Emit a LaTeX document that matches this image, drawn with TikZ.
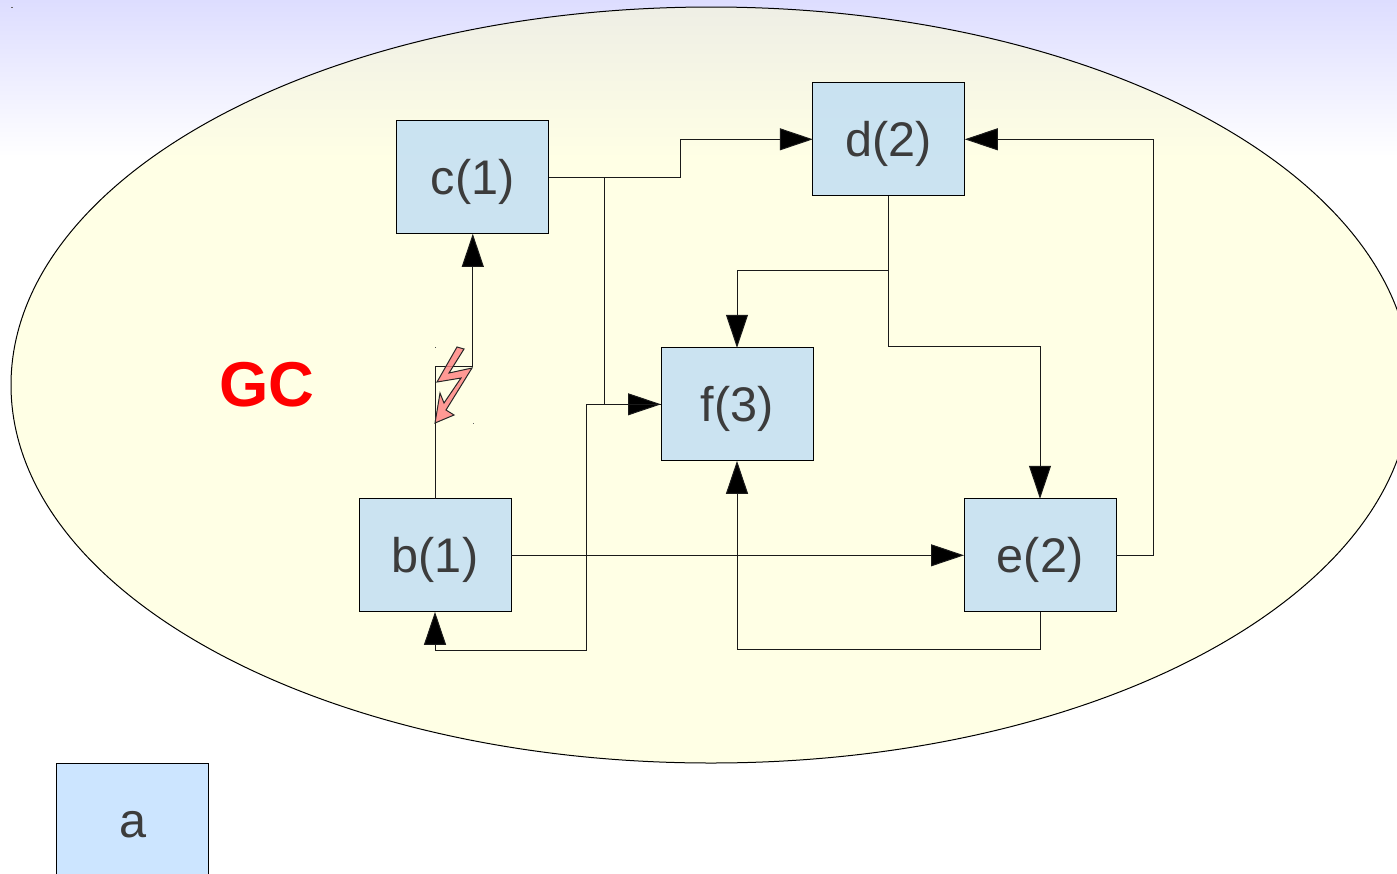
\documentclass[tikz,border=0pt]{standalone}
\usepackage{fontspec}
\setmainfont{Liberation Sans}
\usetikzlibrary{arrows.meta,shapes.geometric}
\definecolor{txt}{HTML}{3C3C3C}
\definecolor{lnk}{HTML}{1A1A1A}
\definecolor{boxfill}{HTML}{BEDDF4}
\definecolor{legendfill}{HTML}{CCE5FF}
\definecolor{gcfill}{HTML}{FFFFCC}
\definecolor{skytop}{HTML}{DDDDFF}
\definecolor{boltfill}{HTML}{FF8080}
\tikzset{
  boxnode/.style={draw=black,line width=0.5pt,fill=boxfill,fill opacity=0.8,text opacity=1,text=txt,minimum width=76pt,minimum height=56.5pt,inner sep=0pt,outer sep=0pt,text height=20pt,text depth=2.6pt,font=\fontsize{24.3}{26}\selectfont},
  link/.style={draw=lnk,line width=0.5pt,-{Triangle[length=16.5pt,width=11pt,fill=black]}},
}
\begin{document}
\begin{tikzpicture}[x=0.5pt,y=-0.5pt]
\clip (0,0) rectangle (1397,873);
\fill[white] (0,0) rectangle (1397,873);
\shade[top color=skytop,bottom color=white] (0,0) rectangle (1397,157);
\node[ellipse,draw=black,line width=0.5pt,fill=gcfill,fill opacity=0.5,minimum width=700pt,minimum height=378pt,inner sep=0pt,outer sep=0pt] (gc) at (711,385) {};
\node[text=red,font=\fontsize{31.7}{34}\selectfont\bfseries] (gclabel) at (267,385) {GC};
\node[boxnode] (c) at (472.8,177.3) {c(1)};
\node[boxnode] (d) at (888.8,139.3) {d(2)};
\node[boxnode] (f) at (737,404.3) {f(3)};
\node[boxnode] (b) at (435,555.3) {b(1)};
\node[boxnode] (e) at (1040,555.3) {e(2)};
\node[boxnode,fill=legendfill,fill opacity=1] (a) at (132.8,820.3) {a};
\draw[link] (b.north) -- ++(0,-132) -| (c.south);
\draw[link] (c.east) -- ++(132,0) |- (d.west);
\draw[link] (c.east) -- ++(56,0) |- (f.west);
\draw[link] (f.west) -- ++(-75,0) -- ++(0,246) -| (b.south);
\draw[link] (d.south) -- ++(0,75) -| (f.north);
\draw[link] (d.south) -- ++(0,151) -| (e.north);
\draw[link] (b.east) -- (e.west);
\draw[link] (e.east) -- ++(37,0) |- (d.east);
\draw[link] (e.south) -- ++(0,38) -| (f.south);
\draw[fill=boltfill,fill opacity=0.8,draw=black!85,line width=0.5pt,line join=miter]
 (457,347) -- (464,349) -- (449,373) -- (472,368) -- (446,410) -- (454,415) -- (435,423) -- (440,393) -- (444,403) -- (461,378) -- (437,382) -- cycle;
\fill[black!70] (434.5,346.5) rectangle (435.5,347.5);
\fill[black!60] (472.5,422.5) rectangle (473.5,423.5);
\fill[black!60] (11,6.5) rectangle (13,7.5);
\end{tikzpicture}
\end{document}
